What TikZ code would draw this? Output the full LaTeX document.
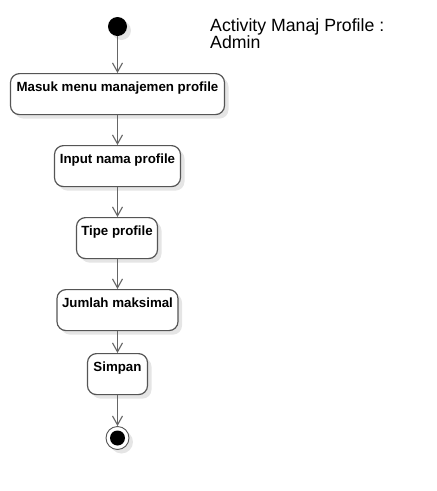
\documentclass[tikz,border=0pt]{standalone}
\usepackage{fontspec}
\setmainfont{Liberation Sans}
\usetikzlibrary{arrows.meta,shadows}
\definecolor{edge}{HTML}{555555}
\definecolor{arr}{HTML}{666666}
\tikzset{
  shad/.style={drop shadow={shadow xshift=4pt,shadow yshift=-4pt,fill=black!10,opacity=1}},
  act/.style={draw=edge,line width=1.2pt,rounded corners=9pt,fill=white,shad,
    anchor=north,minimum height=41pt,inner xsep=0pt,inner ysep=4pt,
    text height=13.5pt,text depth=19.5pt,font=\fontsize{13.3}{15}\selectfont\bfseries},
  flow/.style={draw=arr,line width=1.3pt,-{Straight Barb[length=9pt,width=10pt,line width=1.1pt]}},
}
\begin{document}
\begin{tikzpicture}[x=1pt,y=-1pt]
\useasboundingbox (0,0) rectangle (437,491);
\node[circle,fill=black,minimum size=19pt,inner sep=0pt,shad] (start) at (117.5,26.5) {};
\node[act,minimum width=214pt] (b1) at (117.5,73) {Masuk menu manajemen profile};
\node[act,minimum width=126pt] (b2) at (117.5,145) {Input nama profile};
\node[act,minimum width=81pt] (b3) at (117,217) {Tipe profile};
\node[act,minimum width=121pt] (b4) at (117.5,289) {Jumlah maksimal};
\node[act,minimum width=60pt] (b5) at (117.5,353) {Simpan};
\node[circle,draw=edge,line width=0.9pt,fill=white,minimum size=23pt,inner sep=0pt,shad] (end) at (117.5,438) {};
\node[circle,fill=black,minimum size=15pt,inner sep=0pt] (endin) at (end.center) {};
\node[anchor=base west,align=left,inner sep=0pt,font=\fontsize{17.7}{17}\selectfont] (title) at (210,48) {Activity Manaj Profile :\\Admin};
\draw[flow] (start) -- (b1);
\draw[flow] (b1) -- (b2);
\draw[flow] (b2) -- (b2.south |- b3.north);
\draw[flow] (b2.south |- b3.south) -- (b2.south |- b4.north);
\draw[flow] (b4) -- (b5);
\draw[flow] (b5) -- (end);
\end{tikzpicture}
\end{document}
